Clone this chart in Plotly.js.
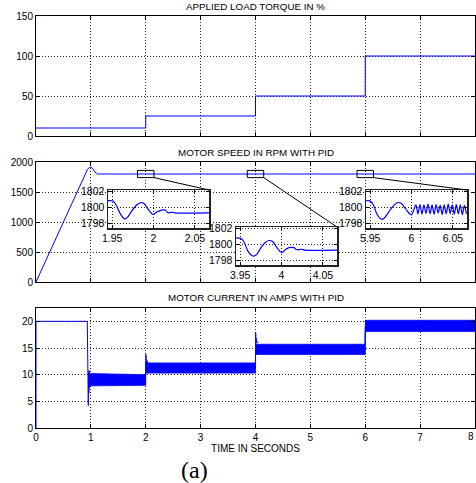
<!DOCTYPE html>
<html>
<head>
<meta charset="utf-8">
<script src="https://cdn.plot.ly/plotly-3.0.1.min.js"></script>
<style>html,body{margin:0;padding:0;background:#fff;}#chart{width:476px;height:483px;}</style>
</head>
<body>
<div id="chart"></div>
<script>
// ---------------- data ----------------
const timeTorque = [0, 2, 2, 4, 4, 6, 6, 8];
const torquePct  = [10, 10, 25, 25, 50, 50, 100, 100];

const timeSpeed = [0, 0.45, 0.9, 0.94, 0.97, 1.0, 1.03, 1.07, 1.12, 8];
const speedRpm  = [0, 900, 1818, 1880, 1908, 1915, 1895, 1835, 1800, 1800];

// current: transient line segments (null = break)
const timeCurrent = [0, 0, 0.935, 0.94, 0.945, 0.95, 0.953, 0.958, 0.963, 0.968, 0.975, 0.985, 1.0, null,
                     1.995, 2.0, 2.002, 2.006, 2.01, 2.015, 2.025, 2.04, null,
                     3.995, 4.0, 4.003, 4.008, 4.015, 4.025, 4.05, null,
                     5.995, 6.0];
const currentAmps = [0, 20, 20, 12.2, 11.2, 12, 4.2, 10.5, 6.5, 10.8, 7.5, 10.2, 8.2, null,
                     9, 10.2, 13.8, 12.4, 13.0, 12.0, 12.6, 12.2, null,
                     11, 11, 17.9, 16.2, 16.8, 15.9, 16.2, null,
                     14.5, 19];
// current: ripple envelope
const timeBand        = [0.985, 2.0, 2.0, 4.0, 4.0, 6.0, 6.0, 8.0];
const currentBandHigh = [10.2, 10.0, 12.2, 12.2, 15.7, 15.7, 20.2, 20.2];
const currentBandLow  = [7.9, 8.0, 10.3, 10.3, 13.8, 13.8, 18.1, 18.1];

// time tick labels
const timeTicks = [0, 1, 2, 3, 4, 5, 6, 7, 8];
const timeTickText = ["0", "1", "2", "3", "4", "5", "6", "7", "8"];

// zoomed speed details
const insetCenters = [2, 4, 6];
const insetTickText = [["1.95", "2", "2.05"], ["3.95", "4", "4.05"], ["5.95", "6", "6.05"]];
const insetYTicks = [1798, 1800, 1802];

const inset1T = [1.9448, 1.9512, 1.9552, 1.9592, 1.9632, 1.9656, 1.9688, 1.974, 1.98, 1.9848, 1.9888, 1.994, 1.998, 2.0, 2.004, 2.008, 2.0112, 2.0144, 2.0168, 2.02, 2.0232, 2.0256, 2.0672];
const inset1Rpm = [1800.84, 1800.8, 1800.24, 1799.32, 1798.72, 1798.56, 1798.8, 1799.6, 1800.32, 1800.6, 1800.44, 1799.68, 1799.2, 1799.12, 1799.44, 1799.6, 1799.68, 1799.68, 1799.36, 1799.36, 1799.4, 1799.32, 1799.32];

const inset2T = [3.9448, 3.9512, 3.9552, 3.9592, 3.964, 3.9664, 3.9704, 3.9752, 3.98, 3.9848, 3.9896, 3.9944, 3.9984, 4.0008, 4.0048, 4.0088, 4.012, 4.0152, 4.0176, 4.0216, 4.0248, 4.028, 4.0672];
const inset2Rpm = [1800.8, 1800.72, 1800.2, 1799.2, 1798.64, 1798.56, 1798.8, 1799.6, 1800.2, 1800.48, 1800.32, 1799.6, 1799.08, 1799.0, 1799.36, 1799.6, 1799.64, 1799.6, 1799.36, 1799.36, 1799.4, 1799.28, 1799.28];

const inset3T = [5.9431, 5.9496, 5.9537, 5.9577, 5.9618, 5.9642, 5.9675, 5.9728, 5.9789, 5.9837, 5.9878, 5.9931, 5.9972, 6.0,
                 6.0053, 6.0077, 6.0102, 6.0126, 6.015, 6.0175, 6.0199, 6.0224, 6.0248, 6.0272, 6.0297, 6.0321, 6.0346, 6.037,
                 6.0394, 6.0419, 6.0443, 6.0467, 6.0492, 6.0516, 6.0541, 6.0565, 6.0589, 6.0614, 6.0638, 6.0663];
const inset3Rpm = [1800.8, 1800.8, 1800.36, 1799.28, 1798.68, 1798.52, 1798.72, 1799.48, 1800.28, 1800.6, 1800.48, 1799.8, 1799.24, 1799.08,
                   1800.3, 1799.2, 1800.35, 1799.15, 1800.3, 1799.25, 1800.4, 1799.2, 1800.3, 1799.15, 1800.35, 1799.3, 1800.25, 1799.1,
                   1800.3, 1799.2, 1800.4, 1799.25, 1800.3, 1799.15, 1800.35, 1799.2, 1800.3, 1799.1, 1800.25, 1799.2];

const titles = ["APPLIED LOAD TORQUE IN %", "MOTOR SPEED IN RPM WITH PID", "MOTOR CURRENT IN AMPS WITH PID"];
const xTitle = "TIME IN SECONDS";
const caption = "(a)";

// ---------------- layout helpers ----------------
const W = 476, H = 483;
const px = p => p / W;
const py = p => 1 - p / H;
const FONT = "Liberation Sans, Arial, Helvetica, sans-serif";
const BLUE = "#0000ff";

const mainX = [36, 475];
const mainY = [[16, 136], [162, 282], [308, 428]];
const insetBox = [[108, 209, 190, 228], [236, 337, 227, 265], [366, 467, 190, 228]];
const insetRange = [-0.055, 0.067];
const insetYRange = [1797.45, 1802.15];

function baseAxis(extra) {
  return Object.assign({
    showline: true, linecolor: "#000", linewidth: 1, mirror: "ticks",
    ticks: "inside", ticklen: 4, tickcolor: "#000", tickwidth: 1,
    showgrid: true, gridcolor: "#222", griddash: "1px,2px", gridwidth: 1,
    zeroline: false, tickfont: {family: FONT, size: 10, color: "#000"},
    ticklabeloverflow: "allow", fixedrange: true
  }, extra);
}

const lineStyle = {color: BLUE, width: 1};
const traces = [
  {x: timeTorque, y: torquePct, xaxis: "x", yaxis: "y", mode: "lines", line: lineStyle},
  {x: timeSpeed, y: speedRpm, xaxis: "x2", yaxis: "y2", mode: "lines", line: lineStyle},
  {x: timeBand, y: currentBandLow, xaxis: "x3", yaxis: "y3", mode: "lines", line: {color: BLUE, width: 0.8}},
  {x: timeBand, y: currentBandHigh, xaxis: "x3", yaxis: "y3", mode: "lines", line: {color: BLUE, width: 0.8}, fill: "tonexty", fillcolor: BLUE},
  {x: timeCurrent, y: currentAmps, xaxis: "x3", yaxis: "y3", mode: "lines", line: lineStyle, connectgaps: false},
  {x: inset1T, y: inset1Rpm, xaxis: "x4", yaxis: "y4", mode: "lines", line: {color: BLUE, width: 1.2, shape: "spline", smoothing: 0.6}},
  {x: inset2T, y: inset2Rpm, xaxis: "x5", yaxis: "y5", mode: "lines", line: {color: BLUE, width: 1.2, shape: "spline", smoothing: 0.6}},
  {x: inset3T, y: inset3Rpm, xaxis: "x6", yaxis: "y6", mode: "lines", line: {color: BLUE, width: 1.2, shape: "spline", smoothing: 0.8}}
];

// last time label is placed as a right-anchored annotation so it stays inside the page
const lastIdx = timeTicks.length - 1;
const shownTickText = timeTickText.map((t, i) => (i === lastIdx ? "" : t));

const layout = {
  width: W, height: H,
  margin: {l: 0, r: 0, t: 0, b: 0},
  paper_bgcolor: "#fff", plot_bgcolor: "#fff",
  showlegend: false,
  font: {family: FONT, size: 10, color: "#000"},
  xaxis: baseAxis({domain: [px(mainX[0]), px(mainX[1])], range: [0, 8], dtick: 1, showticklabels: false, anchor: "y"}),
  yaxis: baseAxis({domain: [py(mainY[0][1]), py(mainY[0][0])], range: [0, 150], dtick: 50, anchor: "x"}),
  xaxis2: baseAxis({domain: [px(mainX[0]), px(mainX[1])], range: [0, 8], dtick: 1, showticklabels: false, anchor: "y2"}),
  yaxis2: baseAxis({domain: [py(mainY[1][1]), py(mainY[1][0])], range: [0, 2000], dtick: 500, anchor: "x2"}),
  xaxis3: baseAxis({domain: [px(mainX[0]), px(mainX[1])], range: [0, 8], tickvals: timeTicks, ticktext: shownTickText, anchor: "y3",
    title: {text: xTitle, font: {family: FONT, size: 10, color: "#000"}, standoff: 2}}),
  yaxis3: baseAxis({domain: [py(mainY[2][1]), py(mainY[2][0])], range: [0, 22.5], dtick: 5, anchor: "x3"}),
  shapes: [],
  annotations: []
};

layout.annotations.push({text: timeTickText[lastIdx], xref: "paper", yref: "paper", x: 1, y: py(436),
  xanchor: "right", yanchor: "middle", showarrow: false, font: {family: FONT, size: 10, color: "#000"}});

insetCenters.forEach((c, i) => {
  const n = i + 4;
  const b = insetBox[i];
  layout["xaxis" + n] = baseAxis({
    domain: [px(b[0]), px(b[1])], range: [c + insetRange[0], c + insetRange[1]],
    tickvals: [c - 0.05, c, c + 0.05], ticktext: insetTickText[i], anchor: "y" + n,
    tickfont: {family: FONT, size: 10.5, color: "#000"}, ticklen: 3, linewidth: 1.5, linecolor: "#222"
  });
  layout["yaxis" + n] = baseAxis({
    domain: [py(b[3]), py(b[2])], range: insetYRange, tickvals: insetYTicks, anchor: "x" + n,
    tickfont: {family: FONT, size: 10.5, color: "#000"}, ticklen: 3, linewidth: 1.5, linecolor: "#222"
  });
  // marker box on the speed plot
  const x0 = c - 0.15, x1 = c + 0.15;
  layout.shapes.push({type: "rect", xref: "x2", yref: "y2", x0: x0, x1: x1, y0: 1740, y1: 1860,
    line: {color: "#000", width: 1}, fillcolor: "rgba(0,0,0,0)", layer: "above"});
  // connector from box corner to inset corner (data -> paper through the axis scale)
  const xd = layout.xaxis2.domain, yd = layout.yaxis2.domain;
  const cx = xd[0] + (x1 - 0) / 8 * (xd[1] - xd[0]);
  const cy = yd[0] + (1740 - 0) / 2000 * (yd[1] - yd[0]);
  layout.shapes.push({type: "line", xref: "paper", yref: "paper", x0: cx, y0: cy, x1: px(b[1]), y1: py(b[2]),
    line: {color: "#000", width: 1}, layer: "above"});
});

const titleY = [7, 152, 297];
titles.forEach((t, i) => {
  layout.annotations.push({text: t, xref: "paper", yref: "paper", x: px((mainX[0] + mainX[1]) / 2), y: py(titleY[i]),
    xanchor: "center", yanchor: "middle", showarrow: false, font: {family: FONT, size: 9.8, color: "#000"}});
});
layout.annotations.push({text: caption, xref: "paper", yref: "paper", x: px(194), y: py(470),
  xanchor: "center", yanchor: "middle", showarrow: false, font: {family: "Liberation Serif, Times New Roman, serif", size: 24, color: "#000"}});

Plotly.newPlot("chart", traces, layout, {staticPlot: true, displayModeBar: false});
</script>
</body>
</html>
